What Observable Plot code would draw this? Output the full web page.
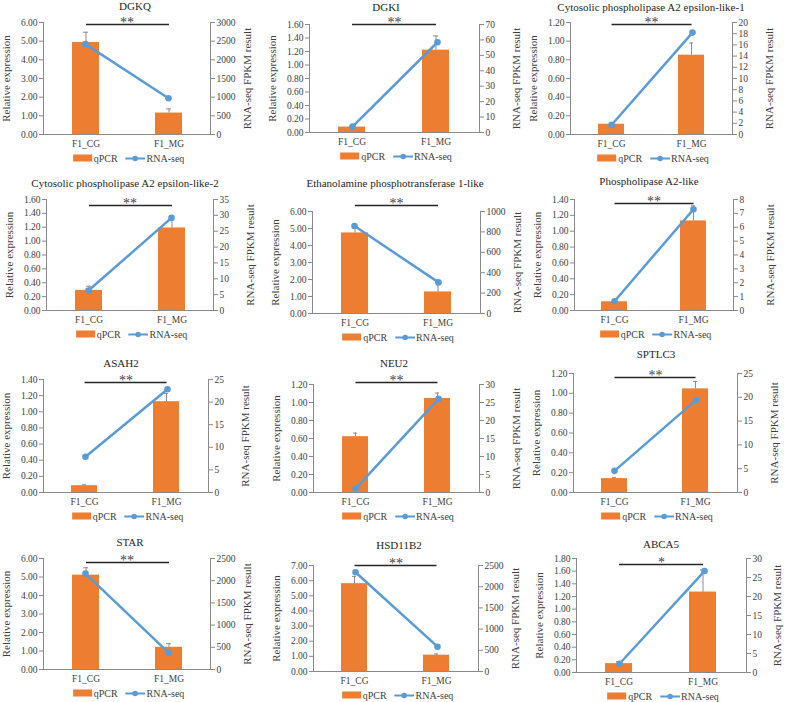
<!DOCTYPE html>
<html>
<head>
<meta charset="utf-8">
<script src="https://cdn.jsdelivr.net/npm/d3@7"></script>
<script src="https://cdn.jsdelivr.net/npm/@observablehq/plot@0.6"></script>
<style>
  body { margin: 0; background: #fff; font-family: "Liberation Serif", "Times New Roman", serif; }
  #root { position: relative; width: 785px; height: 702px; overflow: hidden; }
  .layer { position: absolute; }
  .layer, .layer text { font-family: "Liberation Serif", "Times New Roman", serif !important; }
  .title { position: absolute; transform: translate(-50%, -50%); font-size: 11px; color: #262626; white-space: nowrap; }
  .legend { position: absolute; transform: translate(-50%, -50%); display: flex; align-items: center; font-size: 10px; color: #404040; white-space: nowrap; }
  .legend .sw { display: inline-block; width: 19px; height: 7px; background: #ED7D31; margin-right: 2px; }
  .legend svg { margin: 0 1px 0 8px; }
</style>
</head>
<body>
<div id="root"></div>
<script>
// Genes and the two groups compared
const genes = [
  "DGKQ", "DGKI", "Cytosolic phospholipase A2 epsilon-like-1",
  "Cytosolic phospholipase A2 epsilon-like-2", "Ethanolamine phosphotransferase 1-like", "Phospholipase A2-like",
  "ASAH2", "NEU2", "SPTLC3",
  "STAR", "HSD11B2", "ABCA5"
];
const groups = ["F1_CG", "F1_MG"];

// qPCR relative expression (mean and upper error)
const qpcrCG = [4.93, 0.08, 0.11, 0.29, 4.74, 0.11, 0.085, 0.62, 0.14, 5.10, 5.80, 0.14];
const qpcrMG = [1.15, 1.22, 0.85, 1.19, 1.27, 1.13, 1.125, 1.045, 1.045, 1.20, 1.08, 1.27];
const errCG  = [0.55, 0.01, 0.02, 0.06, 0.30, 0.01, 0.01, 0.04, 0.01, 0.40, 0.48, 0.03];
const errMG  = [0.22, 0.21, 0.13, 0.13, 0.55, 0.19, 0.10, 0.06, 0.075, 0.20, 0.08, 0.35];

// RNA-seq FPKM
const rnaCG = [2420, 3.8, 1.7, 6.3, 858, 0.67, 7.9, 1.1, 4.55, 2160, 2340, 2.3];
const rnaMG = [970, 58.5, 18.2, 29.2, 305, 7.3, 22.85, 26.0, 19.5, 380, 585, 26.7];

// axis ranges and tick steps
const leftMax   = [6, 1.6, 1.2, 1.6, 6, 1.4, 1.4, 1.2, 1.2, 6, 7, 1.8];
const leftStep  = [1, 0.2, 0.2, 0.2, 1, 0.2, 0.2, 0.2, 0.2, 1, 1, 0.2];
const rightMax  = [3000, 70, 20, 35, 1000, 8, 25, 30, 25, 2500, 2500, 30];
const rightStep = [500, 10, 2, 5, 200, 1, 5, 5, 5, 500, 500, 5];

// significance marks
const stars = ["**", "**", "**", "**", "**", "**", "**", "**", "**", "**", "**", "*"];

// page layout of each panel: plot frame [left, right, top, bottom], title centre, bracket offset
const frames = [
  [43, 210, 22, 134], [309, 479, 24, 132], [570, 732, 22, 134],
  [46, 213, 199, 310], [312, 480, 211, 313], [574, 733, 199, 310],
  [43, 208, 379, 492], [313, 479, 384, 492], [573, 737, 373, 492],
  [43, 210, 558, 669], [313, 478, 565, 671], [576, 746, 558, 672]
];
const titleAt = [
  [135, 6], [386, 7], [651, 7],
  [125, 183], [395, 183], [649, 181],
  [121, 363], [394, 363], [656, 354],
  [130, 542], [399, 545], [661, 544]
];
const bracketDy = [2, 0, 2, 6, -6, 4, 3, -2, 4, 4, 0, 6];

const ORANGE = "#ED7D31", BLUE = "#5B9BD5", AXIS = "#8a8a8a", INK = "#404040";
const FONT = "Liberation Serif, Times New Roman, serif";
const mL = 48, mR = 52, mT = 30, mB = 22;

const root = document.getElementById("root");

genes.forEach((gene, i) => {
  const [x0, x1, y0, y1] = frames[i];
  const W = x1 - x0 + mL + mR, H = y1 - y0 + mT + mB;
  const rows = groups.map((g, j) => ({
    group: g,
    qpcr: j ? qpcrMG[i] : qpcrCG[i],
    err: j ? errMG[i] : errCG[i],
    rna: j ? rnaMG[i] : rnaCG[i]
  }));
  const xScale = {domain: groups, paddingInner: 0.677, paddingOuter: 0.339, label: null};
  const common = {
    width: W, height: H, marginLeft: mL, marginRight: mR, marginTop: mT, marginBottom: mB,
    style: {fontFamily: FONT, background: "transparent", overflow: "visible", color: INK}
  };
  const leftTicks = d3.range(0, leftMax[i] + leftStep[i] / 2, leftStep[i]);
  const rightTicks = d3.range(0, rightMax[i] + rightStep[i] / 2, rightStep[i]);
  const rightLabelDx = Math.min(37, 777 - x1);

  // qPCR bars, left axis, category axis and significance bracket
  const bars = Plot.plot({
    ...common,
    x: xScale,
    y: {domain: [0, leftMax[i]], label: null},
    marks: [
      Plot.barY(rows, {x: "group", y: "qpcr", fill: ORANGE}),
      Plot.ruleX(rows, {x: "group", y1: "qpcr", y2: d => d.qpcr + d.err, stroke: "#8c8c8c", strokeWidth: 1}),
      Plot.tickY(rows, {x: "group", y: d => d.qpcr + d.err, stroke: "#8c8c8c", strokeWidth: 1, insetLeft: 11, insetRight: 11}),
      Plot.frame({anchor: "left", stroke: AXIS}),
      Plot.ruleY([0], {stroke: AXIS}),
      Plot.axisY({ticks: leftTicks, tickFormat: d => d.toFixed(2), tickSize: 4, tickPadding: 2, fontSize: 9.5, fontFamily: FONT, stroke: AXIS, label: null}),
      Plot.axisX({tickSize: 0, tickPadding: 6, fontSize: 9.5, fontFamily: FONT, label: null}),
      Plot.text(["Relative expression"], {frameAnchor: "left", textAnchor: "middle", rotate: -90, dx: -37, fontSize: 11, fontFamily: FONT, fill: INK}),
      Plot.link([stars[i]], {x1: () => groups[0], x2: () => groups[1], y1: () => leftMax[i], y2: () => leftMax[i], dy: bracketDy[i], stroke: "#262626", strokeWidth: 1.5}),
      Plot.text([stars[i]], {frameAnchor: "top", text: d => d, dy: bracketDy[i] + 2, lineAnchor: "bottom", fontSize: 14, fontFamily: FONT, fill: INK})
    ]
  });

  // RNA-seq line on its own right-hand axis
  const line = Plot.plot({
    ...common,
    x: {...xScale, axis: null},
    y: {domain: [0, rightMax[i]], label: null},
    marks: [
      Plot.frame({anchor: "right", stroke: AXIS}),
      Plot.axisY({anchor: "right", ticks: rightTicks, tickFormat: d => String(+d.toFixed(4)), tickSize: 4, tickPadding: 2, fontSize: 9.5, fontFamily: FONT, stroke: AXIS, label: null}),
      Plot.text(["RNA-seq FPKM result"], {frameAnchor: "right", textAnchor: "middle", rotate: -90, dx: rightLabelDx, fontSize: 11, fontFamily: FONT, fill: INK}),
      Plot.line(rows, {x: "group", y: "rna", stroke: BLUE, strokeWidth: 2.5}),
      Plot.dot(rows, {x: "group", y: "rna", r: 3.3, fill: BLUE})
    ]
  });

  for (const svg of [bars, line]) {
    svg.classList.add("layer");
    svg.style.left = (x0 - mL) + "px";
    svg.style.top = (y0 - mT) + "px";
    root.appendChild(svg);
  }

  const title = document.createElement("div");
  title.className = "title";
  title.textContent = gene;
  title.style.left = titleAt[i][0] + "px";
  title.style.top = titleAt[i][1] + "px";
  root.appendChild(title);

  const legend = document.createElement("div");
  legend.className = "legend";
  legend.style.left = ((x0 + x1) / 2 + 2) + "px";
  legend.style.top = (y1 + 24) + "px";
  legend.innerHTML =
    `<span class="sw"></span><span>qPCR</span>` +
    `<svg width="20" height="8"><line x1="0" y1="4" x2="20" y2="4" stroke="${BLUE}" stroke-width="2.2"/><circle cx="10" cy="4" r="2.8" fill="${BLUE}"/></svg>` +
    `<span>RNA-seq</span>`;
  root.appendChild(legend);
});
</script>
</body>
</html>
